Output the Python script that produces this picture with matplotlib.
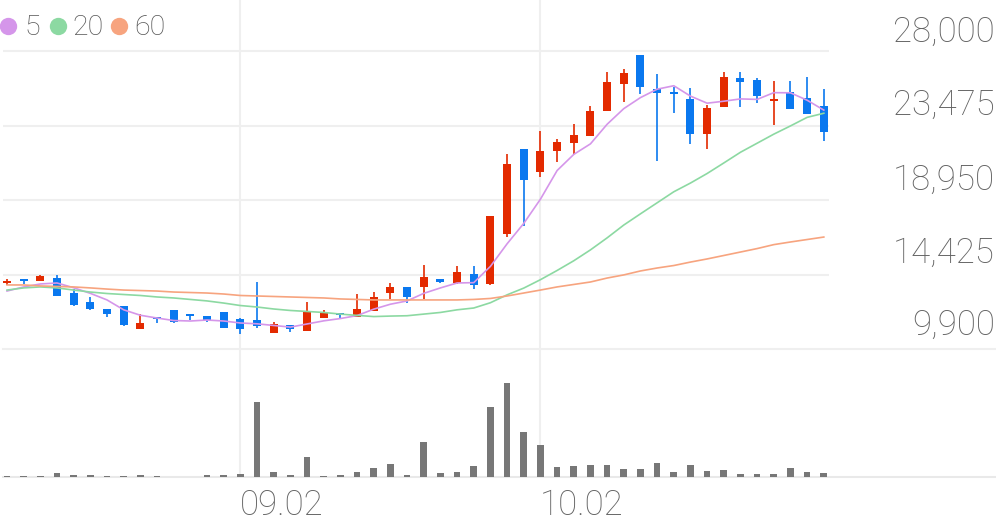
import numpy as np
import matplotlib.pyplot as plt
from matplotlib.lines import Line2D


# daily candles (KRW), oldest first
opens = [13910, 14090, 14030, 14210, 13300, 12750, 12330, 12510, 11110, 11840,
         12270, 11970, 11900, 12150, 11720, 11660, 10870, 11360, 10990, 11780,
         12030, 11840, 12210, 13300, 13670, 13670, 14150, 13910, 14460, 13850,
         16890, 22050, 20650, 21930, 22410, 22840, 24360, 26000, 27760, 25690,
         25510, 25090, 22960, 24600, 26360, 26240, 24960, 25510, 25150, 24660]
highs = [14150, 14090, 14390, 14390, 13540, 13060, 12330, 12510, 12030, 11840,
         12270, 11970, 11900, 12150, 11780, 13970, 11540, 11360, 12750, 12270,
         12030, 13240, 13360, 13910, 13670, 15000, 14150, 14940, 14940, 17980,
         21740, 22050, 23140, 22650, 23570, 24660, 26720, 26910, 27760, 26600,
         25810, 25750, 24720, 26720, 26720, 26360, 26180, 26180, 26420, 25690]
lows = [13790, 13850, 14030, 13120, 12510, 12270, 11840, 11300, 11110, 11480,
        11480, 11660, 11540, 11180, 10810, 11180, 10870, 10930, 10990, 11780,
        11780, 11840, 12210, 12940, 12690, 12940, 13910, 13850, 13540, 13790,
        16700, 17370, 20350, 21260, 21740, 22840, 24360, 24900, 25390, 21320,
        24230, 22350, 22050, 24600, 24600, 24840, 23510, 24480, 24170, 22530]
closes = [14030, 14030, 14330, 13120, 12570, 12330, 12030, 11360, 11480, 11720,
          11540, 11900, 11660, 11180, 11110, 11300, 11420, 11110, 12150, 12090,
          11970, 12330, 13060, 13670, 13060, 14270, 13970, 14580, 13790, 17980,
          21140, 20160, 21930, 22470, 22900, 24360, 26120, 26660, 25810, 25450,
          25390, 22960, 24540, 26420, 26120, 25270, 25020, 24480, 24170, 23080]
volumes = [10000, 10000, 13000, 37000, 17000, 20000, 7000, 7000, 17000, 10000,
           3000, 2000, 20000, 23000, 27000, 750000, 47000, 17000, 200000, 10000,
           20000, 50000, 87000, 130000, 22000, 350000, 40000, 47000, 107000, 700000,
           940000, 453000, 317000, 100000, 110000, 117000, 117000, 77000, 80000, 140000,
           47000, 120000, 60000, 67000, 33000, 33000, 30000, 93000, 47000, 37000]

# moving averages as shown
ma5 = [13420, 13670, 13850, 13910, 13620, 13280, 12880, 12280, 11950, 11780,
       11630, 11600, 11660, 11600, 11480, 11430, 11330, 11230, 11420, 11610,
       11750, 11930, 12320, 12620, 12820, 13280, 13610, 13910, 13930, 14920,
       16290, 17530, 19000, 20740, 21720, 22360, 23550, 24500, 25170, 25680,
       25890, 25260, 24830, 24950, 25090, 25060, 25470, 25460, 25010, 24410]
ma20 = [13480, 13610, 13670, 13610, 13480, 13360, 13270, 13210, 13150, 13060,
        13000, 12910, 12820, 12690, 12540, 12450, 12330, 12240, 12180, 12120,
        12020, 11940, 11870, 11900, 11920, 12020, 12120, 12280, 12390, 12710,
        13190, 13600, 14110, 14670, 15260, 15920, 16650, 17430, 18110, 18780,
        19450, 19980, 20560, 21200, 21850, 22400, 22950, 23450, 23970, 24220]
ma60 = [13790, 13790, 13730, 13700, 13670, 13610, 13540, 13480, 13450, 13420,
        13360, 13330, 13300, 13240, 13150, 13120, 13090, 13060, 13030, 13000,
        12940, 12910, 12880, 12880, 12880, 12880, 12880, 12880, 12910, 12970,
        13120, 13300, 13480, 13670, 13820, 13970, 14210, 14400, 14640, 14820,
        14970, 15180, 15370, 15580, 15790, 16000, 16240, 16400, 16550, 16700]

price_ticks = [9900, 14425, 18950, 23475, 28000]
date_labels = ['09.02', '10.02']
date_idx = [14, 32]
ma_labels = ['5', '20', '60']

RED = '#e32a00'
BLUE = '#0a78ef'
MA_COLORS = ['#d596ea', '#8cd9a2', '#f7a47f']
GRID = '#efefef'
TEXT = '#626262'
FONT = 'Roboto'

W, H = 996, 522
fig = plt.figure(figsize=(W / 100, H / 100), dpi=100)


def fx(px):
    return px / W


def fy(py):
    return 1 - py / H


pitch = 16.67          # px between candles
x0 = 7                 # px of first candle
xlim = ((3 - x0) / pitch, (W - x0) / pitch)
grid_end = (829 - x0) / pitch
unit = (price_ticks[-1] - price_ticks[0]) / 298   # price per px

ax = fig.add_axes([fx(3), fy(349), fx(W - 3), 349 / H])
axv = fig.add_axes([fx(3), fy(477), fx(W - 3), 128 / H])
for a in (ax, axv):
    a.set_xlim(*xlim)
    a.axis('off')
ax.set_ylim(price_ticks[0], price_ticks[0] + 349 * unit)
axv.set_ylim(0, 1280000)

# grid
ax.hlines(price_ticks[1:], xlim[0], grid_end, colors=GRID, lw=1.5, zorder=0)
ax.axhline(price_ticks[0], color=GRID, lw=1.5, clip_on=False, zorder=0)
axv.axhline(0, color='#e9e9e9', lw=1.5, clip_on=False, zorder=0)
for i in date_idx:
    ax.axvline(i, color=GRID, lw=1.5, zorder=0)
    axv.axvline(i, color=GRID, lw=1.5, zorder=0)

# candles
idx = np.arange(len(closes))
o, h, l, c = map(np.array, (opens, highs, lows, closes))
cols = np.where(c >= o, RED, BLUE)
ax.vlines(idx, l, h, colors=cols, lw=1.2, zorder=2)
body = np.maximum(np.abs(c - o), 2 * unit)
ax.bar(idx, body, bottom=np.minimum(o, c), width=0.48, color=cols, lw=0, zorder=3)

for ma, col in zip((ma5, ma20, ma60), MA_COLORS):
    ax.plot(idx, ma, color=col, lw=1.2, zorder=4)

# volume
axv.bar(idx, volumes, width=0.4, color='#777777', lw=0, zorder=2)

# price labels on the right
label_off = [14, 12, 10, 11, 9]   # px above each gridline
for v, off in zip(price_ticks, label_off):
    ax.annotate(f'{v:,}', xy=(1, v), xycoords=('axes fraction', 'data'),
                xytext=(-0.7, off * 0.72), textcoords='offset points',
                ha='right', va='baseline', fontsize=25, color=TEXT,
                family=FONT, fontweight='light', annotation_clip=False)

# date labels
for i, lbl in zip(date_idx, date_labels):
    axv.annotate(lbl, xy=(i, 0), xytext=(-0.7, -38 * 0.72), textcoords='offset points',
                 ha='left', va='baseline', fontsize=25, color=TEXT,
                 family=FONT, fontweight='light', annotation_clip=False)

# legend
for cx, tx, lbl, col in zip([8, 58, 119], [24, 72, 134], ma_labels, MA_COLORS):
    fig.add_artist(Line2D([fx(cx)], [fy(26)], marker='o', ms=12.5, color=col,
                          mec='none', transform=fig.transFigure))
    fig.text(fx(tx), fy(35), lbl, fontsize=20.5, color='#555555', family=FONT,
             fontweight='light', va='baseline', ha='left')

fig.savefig('out.png', dpi=100, facecolor='white')
